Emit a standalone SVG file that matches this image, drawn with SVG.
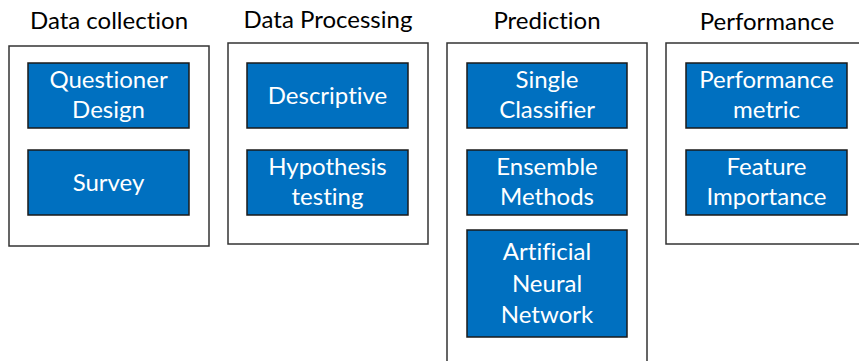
<svg xmlns="http://www.w3.org/2000/svg" width="859" height="361" viewBox="0 0 859 361">
<style>
.title{font-family:Lato,"Liberation Sans",sans-serif;font-size:24px;fill:#000;text-anchor:middle;font-variant-ligatures:none}
.lbl{font-family:Lato,"Liberation Sans",sans-serif;font-size:24px;fill:#fff;text-anchor:middle;font-variant-ligatures:none}
.outer{fill:#fff;stroke:#333;stroke-width:1.5}
.node{fill:#0070C0;stroke:#1a1a1a;stroke-width:1.5}
</style>
<rect width="859" height="361" fill="#fff"/>
<g id="group-data-collection">
<text class="title" x="109" y="29">Data collection</text>
<rect class="outer" x="9" y="46" width="200" height="200"/>
</g>
<g id="group-data-processing">
<text class="title" x="328" y="28">Data Processing</text>
<rect class="outer" x="228" y="43" width="200" height="201"/>
</g>
<g id="group-prediction">
<text class="title" x="547" y="29">Prediction</text>
<rect class="outer" x="447" y="43" width="200" height="330"/>
</g>
<g id="group-performance">
<text class="title" x="767" y="30">Performance</text>
<rect class="outer" x="666" y="43" width="200" height="201"/>
</g>
<g id="node-questioner-design">
<rect class="node" x="28" y="63" width="161" height="65"/>
<text class="lbl" x="108.5" y="88">Questioner</text>
<text class="lbl" x="108.5" y="118">Design</text>
</g>
<g id="node-survey">
<rect class="node" x="28" y="150" width="161" height="65"/>
<text class="lbl" x="108.5" y="191">Survey</text>
</g>
<g id="node-descriptive">
<rect class="node" x="247" y="63" width="161" height="65"/>
<text class="lbl" x="327.5" y="104">Descriptive</text>
</g>
<g id="node-hypothesis-testing">
<rect class="node" x="247" y="150" width="161" height="65"/>
<text class="lbl" x="327.5" y="175">Hypothesis</text>
<text class="lbl" x="327.5" y="205">testing</text>
</g>
<g id="node-single-classifier">
<rect class="node" x="467" y="63" width="160" height="65"/>
<text class="lbl" x="547" y="88">Single</text>
<text class="lbl" x="547" y="118">Classifier</text>
</g>
<g id="node-ensemble-methods">
<rect class="node" x="467" y="150" width="160" height="65"/>
<text class="lbl" x="547" y="175">Ensemble</text>
<text class="lbl" x="547" y="205">Methods</text>
</g>
<g id="node-ann">
<rect class="node" x="467" y="230" width="160" height="107"/>
<text class="lbl" x="547" y="260">Artificial</text>
<text class="lbl" x="547" y="292">Neural</text>
<text class="lbl" x="547" y="323">Network</text>
</g>
<g id="node-performance-metric">
<rect class="node" x="686" y="63" width="161" height="65"/>
<text class="lbl" x="766.5" y="88">Performance</text>
<text class="lbl" x="766.5" y="118">metric</text>
</g>
<g id="node-feature-importance">
<rect class="node" x="686" y="150" width="161" height="65"/>
<text class="lbl" x="766.5" y="175">Feature</text>
<text class="lbl" x="766.5" y="205">Importance</text>
</g>
<g id="connectors"></g>
</svg>
